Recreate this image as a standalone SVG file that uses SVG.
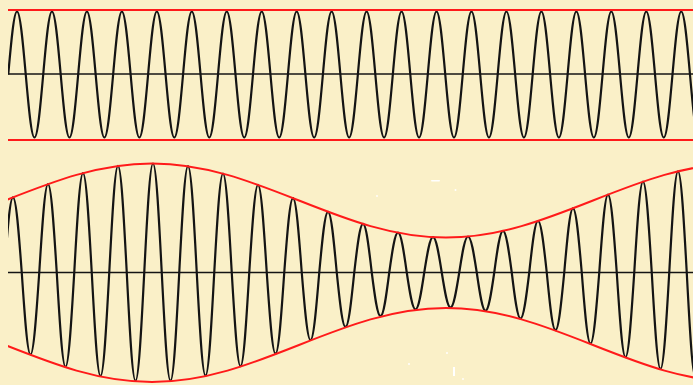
<svg xmlns="http://www.w3.org/2000/svg" width="693" height="385" viewBox="0 0 693 385">
<style>
.wave{fill:none;stroke:#141414;stroke-width:2.2;stroke-linejoin:round}
.axis{stroke:#141414;stroke-width:1.6}
.red{fill:none;stroke:#ff1a1a;stroke-width:2}
</style>
<defs>
<clipPath id="clip"><rect x="8" y="0" width="685" height="385"/></clipPath>
</defs>
<rect width="693" height="385" fill="#faf0c8"/>
<g id="top-panel" clip-path="url(#clip)">
<line class="axis" x1="8" y1="74" x2="693" y2="74"/>
<path class="wave" d="M8.26 74.5c2.85 -32.27 5.58 -63 8.74 -63c3.16 0 5.89 30.73 8.74 63c2.85 32.27 5.58 63 8.74 63c3.16 0 5.89 -30.73 8.74 -63c2.85 -32.27 5.58 -63 8.74 -63c3.16 0 5.89 30.73 8.74 63c2.85 32.27 5.58 63 8.74 63c3.16 0 5.89 -30.73 8.74 -63c2.85 -32.27 5.58 -63 8.74 -63c3.16 0 5.89 30.73 8.74 63c2.85 32.27 5.58 63 8.74 63c3.16 0 5.89 -30.73 8.74 -63c2.85 -32.27 5.58 -63 8.74 -63c3.16 0 5.89 30.73 8.74 63c2.85 32.27 5.58 63 8.74 63c3.16 0 5.89 -30.73 8.74 -63c2.85 -32.27 5.58 -63 8.74 -63c3.16 0 5.89 30.73 8.74 63c2.85 32.27 5.58 63 8.74 63c3.16 0 5.89 -30.73 8.74 -63c2.85 -32.27 5.58 -63 8.74 -63c3.16 0 5.89 30.73 8.74 63c2.85 32.27 5.58 63 8.74 63c3.16 0 5.89 -30.73 8.74 -63c2.85 -32.27 5.58 -63 8.74 -63c3.16 0 5.89 30.73 8.74 63c2.85 32.27 5.58 63 8.74 63c3.16 0 5.89 -30.73 8.74 -63c2.85 -32.27 5.58 -63 8.74 -63c3.16 0 5.89 30.73 8.74 63c2.85 32.27 5.58 63 8.74 63c3.16 0 5.89 -30.73 8.74 -63c2.85 -32.27 5.58 -63 8.74 -63c3.16 0 5.89 30.73 8.74 63c2.85 32.27 5.58 63 8.74 63c3.16 0 5.89 -30.73 8.74 -63c2.85 -32.27 5.58 -63 8.74 -63c3.16 0 5.89 30.73 8.74 63c2.85 32.27 5.58 63 8.74 63c3.16 0 5.89 -30.73 8.74 -63c2.85 -32.27 5.58 -63 8.74 -63c3.16 0 5.89 30.73 8.74 63c2.85 32.27 5.58 63 8.74 63c3.16 0 5.89 -30.73 8.74 -63c2.85 -32.27 5.58 -63 8.74 -63c3.16 0 5.89 30.73 8.74 63c2.85 32.27 5.58 63 8.74 63c3.16 0 5.89 -30.73 8.74 -63c2.85 -32.27 5.58 -63 8.74 -63c3.16 0 5.89 30.73 8.74 63c2.85 32.27 5.58 63 8.74 63c3.16 0 5.89 -30.73 8.74 -63c2.85 -32.27 5.58 -63 8.74 -63c3.16 0 5.89 30.73 8.74 63c2.85 32.27 5.58 63 8.74 63c3.16 0 5.89 -30.73 8.74 -63c2.85 -32.27 5.58 -63 8.74 -63c3.16 0 5.89 30.73 8.74 63c2.85 32.27 5.58 63 8.74 63c3.16 0 5.89 -30.73 8.74 -63c2.85 -32.27 5.58 -63 8.74 -63c3.16 0 5.89 30.73 8.74 63c2.85 32.27 5.58 63 8.74 63c3.16 0 5.89 -30.73 8.74 -63c2.85 -32.27 5.58 -63 8.74 -63c3.16 0 5.89 30.73 8.74 63c2.85 32.27 5.58 63 8.74 63c3.16 0 5.89 -30.73 8.74 -63c2.85 -32.27 5.58 -63 8.74 -63c3.16 0 5.89 30.73 8.74 63c2.85 32.27 5.58 63 8.74 63c3.16 0 5.89 -30.73 8.74 -63c2.85 -32.27 5.58 -63 8.74 -63c3.16 0 5.89 30.73 8.74 63c2.85 32.27 5.58 63 8.74 63c3.16 0 5.89 -30.73 8.74 -63c2.85 -32.27 5.58 -63 8.74 -63c3.16 0 5.89 30.73 8.74 63c2.85 32.27 5.58 63 8.74 63c3.16 0 5.89 -30.73 8.74 -63"/>
<line class="red" x1="8" y1="10" x2="693" y2="10"/>
<line class="red" x1="8" y1="140" x2="693" y2="140"/>
</g>
<g id="bottom-panel" clip-path="url(#clip)">
<line class="axis" x1="8" y1="272.5" x2="693" y2="272.5"/>
<path class="wave" d="M4.25 272.5c2.85 -38.52 5.58 -75.2 8.75 -75.2c3.17 0 5.9 36.68 8.75 75.2c2.85 42.01 5.58 82 8.75 82c3.17 0 5.9 -39.99 8.75 -82c2.85 -45.29 5.58 -88.4 8.75 -88.4c3.17 0 5.9 43.11 8.75 88.4c2.85 48.31 5.58 94.3 8.75 94.3c3.17 0 5.9 -45.99 8.75 -94.3c2.85 -50.92 5.58 -99.4 8.75 -99.4c3.17 0 5.9 48.48 8.75 99.4c2.85 53.02 5.58 103.5 8.75 103.5c3.17 0 5.9 -50.48 8.75 -103.5c2.85 -54.61 5.58 -106.6 8.75 -106.6c3.17 0 5.9 51.99 8.75 106.6c2.85 55.53 5.58 108.4 8.75 108.4c3.17 0 5.9 -52.87 8.75 -108.4c2.85 -55.84 5.58 -109 8.75 -109c3.17 0 5.9 53.16 8.75 109c2.85 55.48 5.58 108.3 8.75 108.3c3.17 0 5.9 -52.82 8.75 -108.3c2.85 -54.46 5.58 -106.3 8.75 -106.3c3.17 0 5.9 51.84 8.75 106.3c2.85 52.82 5.58 103.1 8.75 103.1c3.17 0 5.9 -50.28 8.75 -103.1c2.85 -50.62 5.58 -98.8 8.75 -98.8c3.17 0 5.9 48.18 8.75 98.8c2.85 48 5.58 93.7 8.75 93.7c3.17 0 5.9 -45.7 8.75 -93.7c2.85 -44.93 5.58 -87.7 8.75 -87.7c3.17 0 5.9 42.77 8.75 87.7c2.85 41.6 5.58 81.2 8.75 81.2c3.17 0 5.9 -39.6 8.75 -81.2c2.85 -38.11 5.58 -74.4 8.75 -74.4c3.17 0 5.9 36.29 8.75 74.4c2.85 34.58 5.58 67.5 8.75 67.5c3.17 0 5.9 -32.92 8.75 -67.5c2.85 -31.1 5.58 -60.7 8.75 -60.7c3.17 0 5.9 29.6 8.75 60.7c2.85 27.87 5.58 54.4 8.75 54.4c3.17 0 5.9 -26.53 8.75 -54.4c2.85 -24.9 5.58 -48.6 8.75 -48.6c3.17 0 5.9 23.7 8.75 48.6c2.85 22.39 5.58 43.7 8.75 43.7c3.17 0 5.9 -21.31 8.75 -43.7c2.85 -20.39 5.58 -39.8 8.75 -39.8c3.17 0 5.9 19.41 8.75 39.8c2.85 18.96 5.58 37 8.75 37c3.17 0 5.9 -18.04 8.75 -37c2.85 -18.14 5.58 -35.4 8.75 -35.4c3.17 0 5.9 17.26 8.75 35.4c2.85 17.93 5.58 35 8.75 35c3.17 0 5.9 -17.07 8.75 -35c2.85 -18.44 5.58 -36 8.75 -36c3.17 0 5.9 17.56 8.75 36c2.85 19.62 5.58 38.3 8.75 38.3c3.17 0 5.9 -18.68 8.75 -38.3c2.85 -21.36 5.58 -41.7 8.75 -41.7c3.17 0 5.9 20.34 8.75 41.7c2.85 23.62 5.58 46.1 8.75 46.1c3.17 0 5.9 -22.48 8.75 -46.1c2.85 -26.38 5.58 -51.5 8.75 -51.5c3.17 0 5.9 25.12 8.75 51.5c2.85 29.51 5.58 57.6 8.75 57.6c3.17 0 5.9 -28.09 8.75 -57.6c2.85 -32.84 5.58 -64.1 8.75 -64.1c3.17 0 5.9 31.26 8.75 64.1c2.85 36.37 5.58 71 8.75 71c3.17 0 5.9 -34.63 8.75 -71c2.85 -39.91 5.58 -77.9 8.75 -77.9c3.17 0 5.9 37.99 8.75 77.9c2.85 43.34 5.58 84.6 8.75 84.6c3.17 0 5.9 -41.26 8.75 -84.6c2.85 -46.52 5.58 -90.8 8.75 -90.8c3.17 0 5.9 44.28 8.75 90.8c2.85 49.39 5.58 96.4 8.75 96.4c3.17 0 5.9 -47.01 8.75 -96.4c2.85 -51.84 5.58 -101.2 8.75 -101.2c3.17 0 5.9 49.36 8.75 101.2c2.85 53.74 5.58 104.9 8.75 104.9c3.17 0 5.9 -51.16 8.75 -104.9"/>
<path class="red" d="M-142 237.5c53.2 0 99.06 -18.04 147 -37c47.94 -18.96 93.8 -37 147 -37c53.2 0 99.06 18.04 147 37c47.94 18.96 93.8 37 147 37c53.2 0 99.06 -18.04 147 -37c47.94 -18.96 93.8 -37 147 -37"/>
<path class="red" d="M-142 308c53.2 0 99.06 18.04 147 37c47.94 18.96 93.8 37 147 37c53.2 0 99.06 -18.04 147 -37c47.94 -18.96 93.8 -37 147 -37c53.2 0 99.06 18.04 147 37c47.94 18.96 93.8 37 147 37"/>
</g>
<g id="specks" fill="#ffffff">
<rect x="431" y="180" width="9" height="1.6" rx="0.8"/>
<circle cx="455.5" cy="190" r="1"/>
<circle cx="377" cy="196" r="0.9"/>
<circle cx="409" cy="364" r="1"/>
<circle cx="447" cy="353" r="1"/>
<rect x="453" y="367" width="2" height="9"/>
<circle cx="463" cy="379" r="0.9"/>
</g>
</svg>
